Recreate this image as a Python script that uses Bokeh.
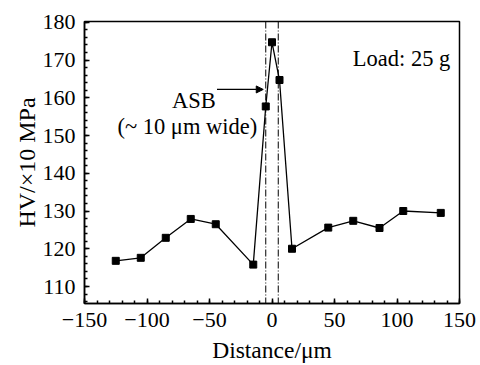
from bokeh.plotting import figure
from bokeh.models import Range1d, FixedTicker, Label, Arrow, NormalHead, Span
from bokeh.embed import file_html
from bokeh.resources import INLINE

# data
distance = [-125, -105, -85, -65, -45, -15, -5, 0, 6, 16, 45, 65, 86, 105, 135]
hardness = [116.8, 117.6, 122.9, 127.9, 126.5, 115.8, 157.7, 174.7, 164.7,
            120.0, 125.6, 127.4, 125.5, 130.0, 129.5]
band_edges = [-5, 5]
x_ticks = [-150, -100, -50, 0, 50, 100, 150]
x_minor = list(range(-150, 151, 10))
y_ticks = [110, 120, 130, 140, 150, 160, 170, 180]
y_minor = list(range(106, 181, 2))

FONT = "Liberation Serif"

p = figure(width=480, height=365,
           x_range=Range1d(-150, 150), y_range=Range1d(105.5, 180.2),
           output_backend="svg", toolbar_location=None,
           min_border_left=84, min_border_right=21,
           min_border_top=21, min_border_bottom=60)

p.grid.visible = False
p.background_fill_color = "white"
p.border_fill_color = "white"
p.outline_line_color = "black"
p.outline_line_width = 1.5

p.xaxis.ticker = FixedTicker(ticks=x_ticks, minor_ticks=x_minor)
p.yaxis.ticker = FixedTicker(ticks=y_ticks, minor_ticks=y_minor)
p.xaxis.major_label_overrides = {t: (str(t) if t >= 0 else "\u2212" + str(-t)) for t in x_ticks}

for ax in (p.xaxis[0], p.yaxis[0]):
    ax.axis_line_color = "black"
    ax.axis_line_width = 1.5
    ax.major_tick_in = 5
    ax.major_tick_out = 0
    ax.minor_tick_in = 3
    ax.minor_tick_out = 0
    ax.major_tick_line_color = "black"
    ax.minor_tick_line_color = "black"
    ax.major_tick_line_width = 1.5
    ax.minor_tick_line_width = 1.5
    ax.major_label_text_font = FONT
    ax.major_label_text_font_size = "22px"
    ax.major_label_text_color = "black"
    ax.axis_label_text_font = FONT
    ax.axis_label_text_font_style = "normal"
    ax.axis_label_text_color = "black"

p.yaxis.axis_label = "HV/\u00d710 MPa"
p.yaxis.axis_label_text_font_size = "24px"
p.xaxis.axis_label = "Distance/\u03bcm"
p.xaxis.axis_label_text_font_size = "23.5px"
p.xaxis.major_label_standoff = 9
p.xaxis.axis_label_standoff = 7
p.yaxis.major_label_standoff = 9
p.yaxis.axis_label_standoff = 0

for xe in band_edges:
    p.add_layout(Span(location=xe, dimension="height", line_color="black",
                      line_width=1, line_dash="7 2 1 2"))

p.line(distance, hardness, line_color="black", line_width=1.3)
p.scatter(distance, hardness, marker="square", size=7, fill_color="black", line_color="black")

p.add_layout(Arrow(end=NormalHead(size=7, fill_color="black", line_color="black", line_width=1),
                   x_start=-44, y_start=162.2, x_end=-7, y_end=162.2,
                   line_color="black", line_width=1.2))

p.add_layout(Label(x=-45, y=159.3, text="ASB", text_align="right",
                   text_baseline="alphabetic", text_font=FONT,
                   text_font_size="22.5px", text_color="black"))
p.add_layout(Label(x=-7.3, y=152.5, text="(~ 10  \u03bcm wide)", text_align="right",
                   text_baseline="alphabetic", text_font=FONT,
                   text_font_size="22.5px", text_color="black"))
p.add_layout(Label(x=142.6, y=170.4, text="Load: 25 g", text_align="right",
                   text_baseline="alphabetic", text_font=FONT,
                   text_font_size="22.5px", text_color="black"))

open("out.html", "w").write(file_html(p, INLINE))
